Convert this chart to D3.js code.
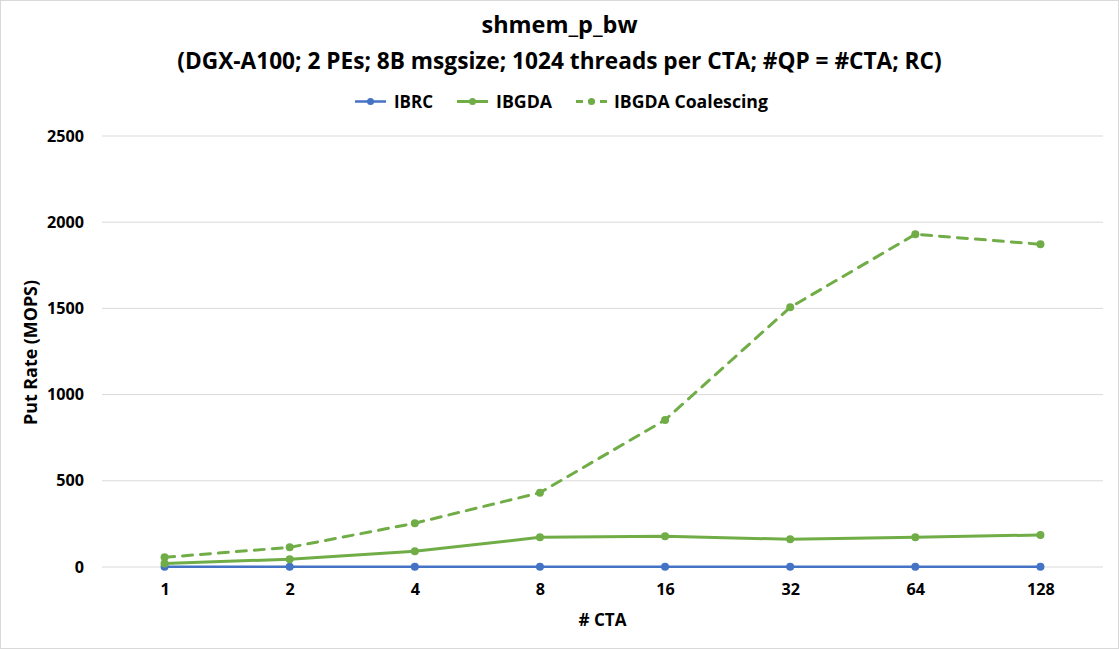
<!DOCTYPE html>
<html>
<head>
<meta charset="utf-8">
<script src="https://cdn.jsdelivr.net/npm/d3@7"></script>
<style>
  html, body { margin: 0; padding: 0; background: #fff; }
  svg { display: block; }
  text { font-family: "Open Sans", "Noto Sans", sans-serif; font-weight: bold; fill: #000; }
</style>
</head>
<body>
<svg id="chart" width="1119" height="649"></svg>
<script>
const categories = ["1", "2", "4", "8", "16", "32", "64", "128"];
const ibrc = [1.5, 1.5, 1.5, 1.5, 1.5, 1.5, 1.5, 1.0];
const ibgda = [21, 45, 91, 172, 178, 161, 172, 186];
const ibgdaCoalescing = [56, 114, 254, 431, 853, 1506, 1930, 1872];
const yTicks = [0, 500, 1000, 1500, 2000, 2500];
const seriesNames = ["IBRC", "IBGDA", "IBGDA Coalescing"];

const series = [
  { name: seriesNames[0], values: ibrc, color: "#4472C4", width: 2.5, dash: null },
  { name: seriesNames[1], values: ibgda, color: "#70AD47", width: 3, dash: null },
  { name: seriesNames[2], values: ibgdaCoalescing, color: "#70AD47", width: 3, dash: "10,8" }
];

const svg = d3.select("#chart");
const W = 1119, H = 649;
const plot = { left: 102, right: 1103, top: 136, bottom: 567 };

svg.append("rect").attr("x", 0.5).attr("y", 0.5).attr("width", W - 1).attr("height", H - 1)
  .attr("fill", "#fff").attr("stroke", "#d9d9d9");

function fitText(sel, target) {
  const node = sel.node();
  let fs = parseFloat(sel.attr("font-size"));
  for (let i = 0; i < 4; i++) {
    const w = node.getComputedTextLength();
    if (w > 0) { fs = fs * target / w; sel.attr("font-size", fs); }
  }
  return fs;
}

// measure a tick font size so "2500" is ~37px wide
const probe = svg.append("text").attr("font-size", 15).text("2500");
const tickFs = fitText(probe, 37);
probe.remove();

const x = d3.scalePoint().domain(categories).range([plot.left, plot.right]).padding(0.5);
const y = d3.scaleLinear().domain([0, 2500]).range([plot.bottom, plot.top]);

// gridlines
svg.append("g").selectAll("line").data(yTicks).join("line")
  .attr("x1", plot.left).attr("x2", plot.right)
  .attr("y1", d => y(d)).attr("y2", d => y(d))
  .attr("stroke", "#d9d9d9").attr("stroke-width", 1);

// y axis labels
const yAxis = svg.append("g").attr("transform", `translate(${plot.left - 16},0)`)
  .call(d3.axisLeft(y).tickValues(yTicks).tickSize(0).tickPadding(2).tickFormat(d3.format("d")));
yAxis.select(".domain").remove();
yAxis.selectAll("text").attr("font-size", tickFs).attr("font-family", null).attr("fill", "#000")
  .style("font-weight", "bold");

// x axis labels
const xAxis = svg.append("g").attr("transform", `translate(0,${plot.bottom + 16})`)
  .call(d3.axisBottom(x).tickSize(0).tickPadding(0));
xAxis.select(".domain").remove();
xAxis.selectAll("text").attr("font-size", tickFs).attr("font-family", null).attr("fill", "#000")
  .style("font-weight", "bold");

// lines
const line = d3.line().x((d, i) => x(categories[i])).y(d => y(d));
series.forEach(s => {
  svg.append("path").datum(s.values)
    .attr("d", line).attr("fill", "none")
    .attr("stroke", s.color).attr("stroke-width", s.width)
    .attr("stroke-dasharray", s.dash)
    .attr("stroke-linejoin", "round").attr("stroke-linecap", "round");
  svg.append("g").selectAll("circle").data(s.values).join("circle")
    .attr("cx", (d, i) => x(categories[i])).attr("cy", d => y(d))
    .attr("r", 4).attr("fill", s.color);
});

// titles
const t1 = svg.append("text").attr("x", 559.5).attr("y", 33).attr("text-anchor", "middle")
  .attr("font-size", 20).text("shmem_p_bw");
fitText(t1, 156);
const t2 = svg.append("text").attr("x", 559.5).attr("y", 69).attr("text-anchor", "middle")
  .attr("font-size", 20).text("(DGX-A100; 2 PEs; 8B msgsize; 1024 threads per CTA; #QP = #CTA; RC)");
fitText(t2, 764);

// axis titles
const xt = svg.append("text").attr("x", (plot.left + plot.right) / 2).attr("y", 626)
  .attr("text-anchor", "middle").attr("font-size", 15).text("# CTA");
fitText(xt, 48);
const yt = svg.append("text").attr("transform", `translate(37,${(plot.top + plot.bottom) / 2 + 1}) rotate(-90)`)
  .attr("text-anchor", "middle").attr("font-size", 15).text("Put Rate (MOPS)");
fitText(yt, 145);

// legend
const legendPos = [
  { lx: 355, tx: 394, tw: 39 },
  { lx: 457, tx: 496, tw: 56 },
  { lx: 576, tx: 614, tw: 154 }
];
series.forEach((s, i) => {
  const p = legendPos[i];
  const g = svg.append("g");
  g.append("line").attr("x1", p.lx).attr("x2", p.lx + 31).attr("y1", 101.5).attr("y2", 101.5)
    .attr("stroke", s.color).attr("stroke-width", s.width)
    .attr("stroke-dasharray", s.dash ? "7,5" : null);
  g.append("circle").attr("cx", p.lx + 15.5).attr("cy", 101.5).attr("r", 3.5).attr("fill", s.color);
  const t = g.append("text").attr("x", p.tx).attr("y", 107.5).attr("font-size", 16).text(s.name);
  fitText(t, p.tw);
});
</script>
</body>
</html>
